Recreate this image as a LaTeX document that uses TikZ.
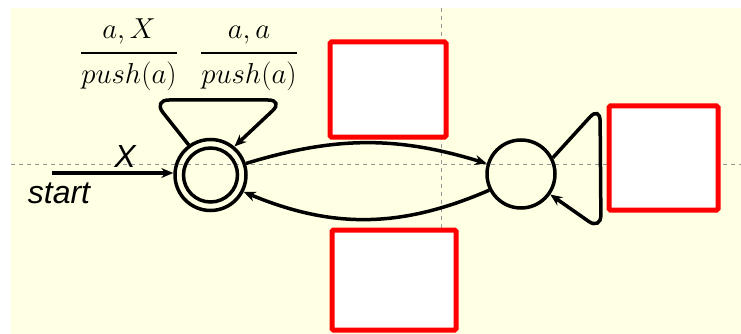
\documentclass[tikz,border=0pt]{standalone}
\usepackage{amsmath}
\usepackage{graphicx}
\usepackage{fontspec}
\usetikzlibrary{arrows.meta}
\newfontfamily\lsans{Liberation Sans}
\definecolor{bgyellow}{RGB}{255,255,227}
\definecolor{guidegray}{RGB}{150,150,150}
\definecolor{boxred}{RGB}{255,0,0}
\newcommand{\bigfrac}[2]{\scalebox{1.16}{$\genfrac{}{}{2.2pt}{0}{#1}{#2}$}}
\tikzset{
  state/.style={circle, draw=black, line width=3.5pt, inner sep=0pt},
  edge/.style={draw=black, line width=3.5pt, -{Stealth[length=12pt,width=10pt]}},
  guide/.style={draw=guidegray, line width=0.8pt, dash pattern=on 4pt off 4pt},
  redbox/.style={draw=boxred, fill=white, line width=5pt, rounded corners=1.5pt, inner sep=0pt},
  sanslabel/.style={font=\lsans\itshape\fontsize{32}{36}\selectfont, inner sep=0pt},
  fraclabel/.style={font=\Huge, inner sep=0pt, anchor=base}
}
\begin{document}
\begin{tikzpicture}[x=1pt,y=1pt]
\useasboundingbox (0,0) rectangle (741,-334);
\fill[bgyellow] (11,-8) rectangle (741,-334);
\coordinate (hl) at (11,-164);
\coordinate (hr) at (741,-164);
\coordinate (vt) at (441,-8);
\coordinate (vb) at (441,-228);
\draw[guide] (hl) -- (hr);
\draw[guide] (vt) -- (vb);

\node[state, minimum size=71pt] (q0) at (210.5,-175) {};
\node[state, minimum size=54pt] (q0i) at (q0.center) {};
\node[state, minimum size=68pt] (q1) at (521,-174) {};

\coordinate (s) at (52,-173);
\draw[edge] (s) -- (q0.west |- s);
\node[sanslabel, anchor=base] (lx) at (125,-167) {X};
\node[sanslabel, anchor=base] (lstart) at (59,-203) {start};

\draw[edge] (q0.18) to[bend left=17] (q1.163);
\draw[edge] (q1.207) to[bend left=23] (q0.333);

\draw[edge, rounded corners=16pt] (q0.126) -- (153,-100) -- (284,-100) -- (q0.50);
\draw[edge, rounded corners=15pt] (q1.27) -- (600,-106) -- (601,-230) -- (q1.325);

\node[fraclabel] (f1) at (129,-60) {\bigfrac{a,X}{push(a)}};
\node[fraclabel] (f2) at (249,-60) {\bigfrac{a,a}{push(a)}};

\node[redbox, minimum width=116pt, minimum height=95pt] (b1) at (388,-89.5) {};
\node[redbox, minimum width=124pt, minimum height=100pt] (b2) at (394,-280) {};
\node[redbox, minimum width=109pt, minimum height=104pt] (b3) at (663.5,-158) {};
\end{tikzpicture}
\end{document}
